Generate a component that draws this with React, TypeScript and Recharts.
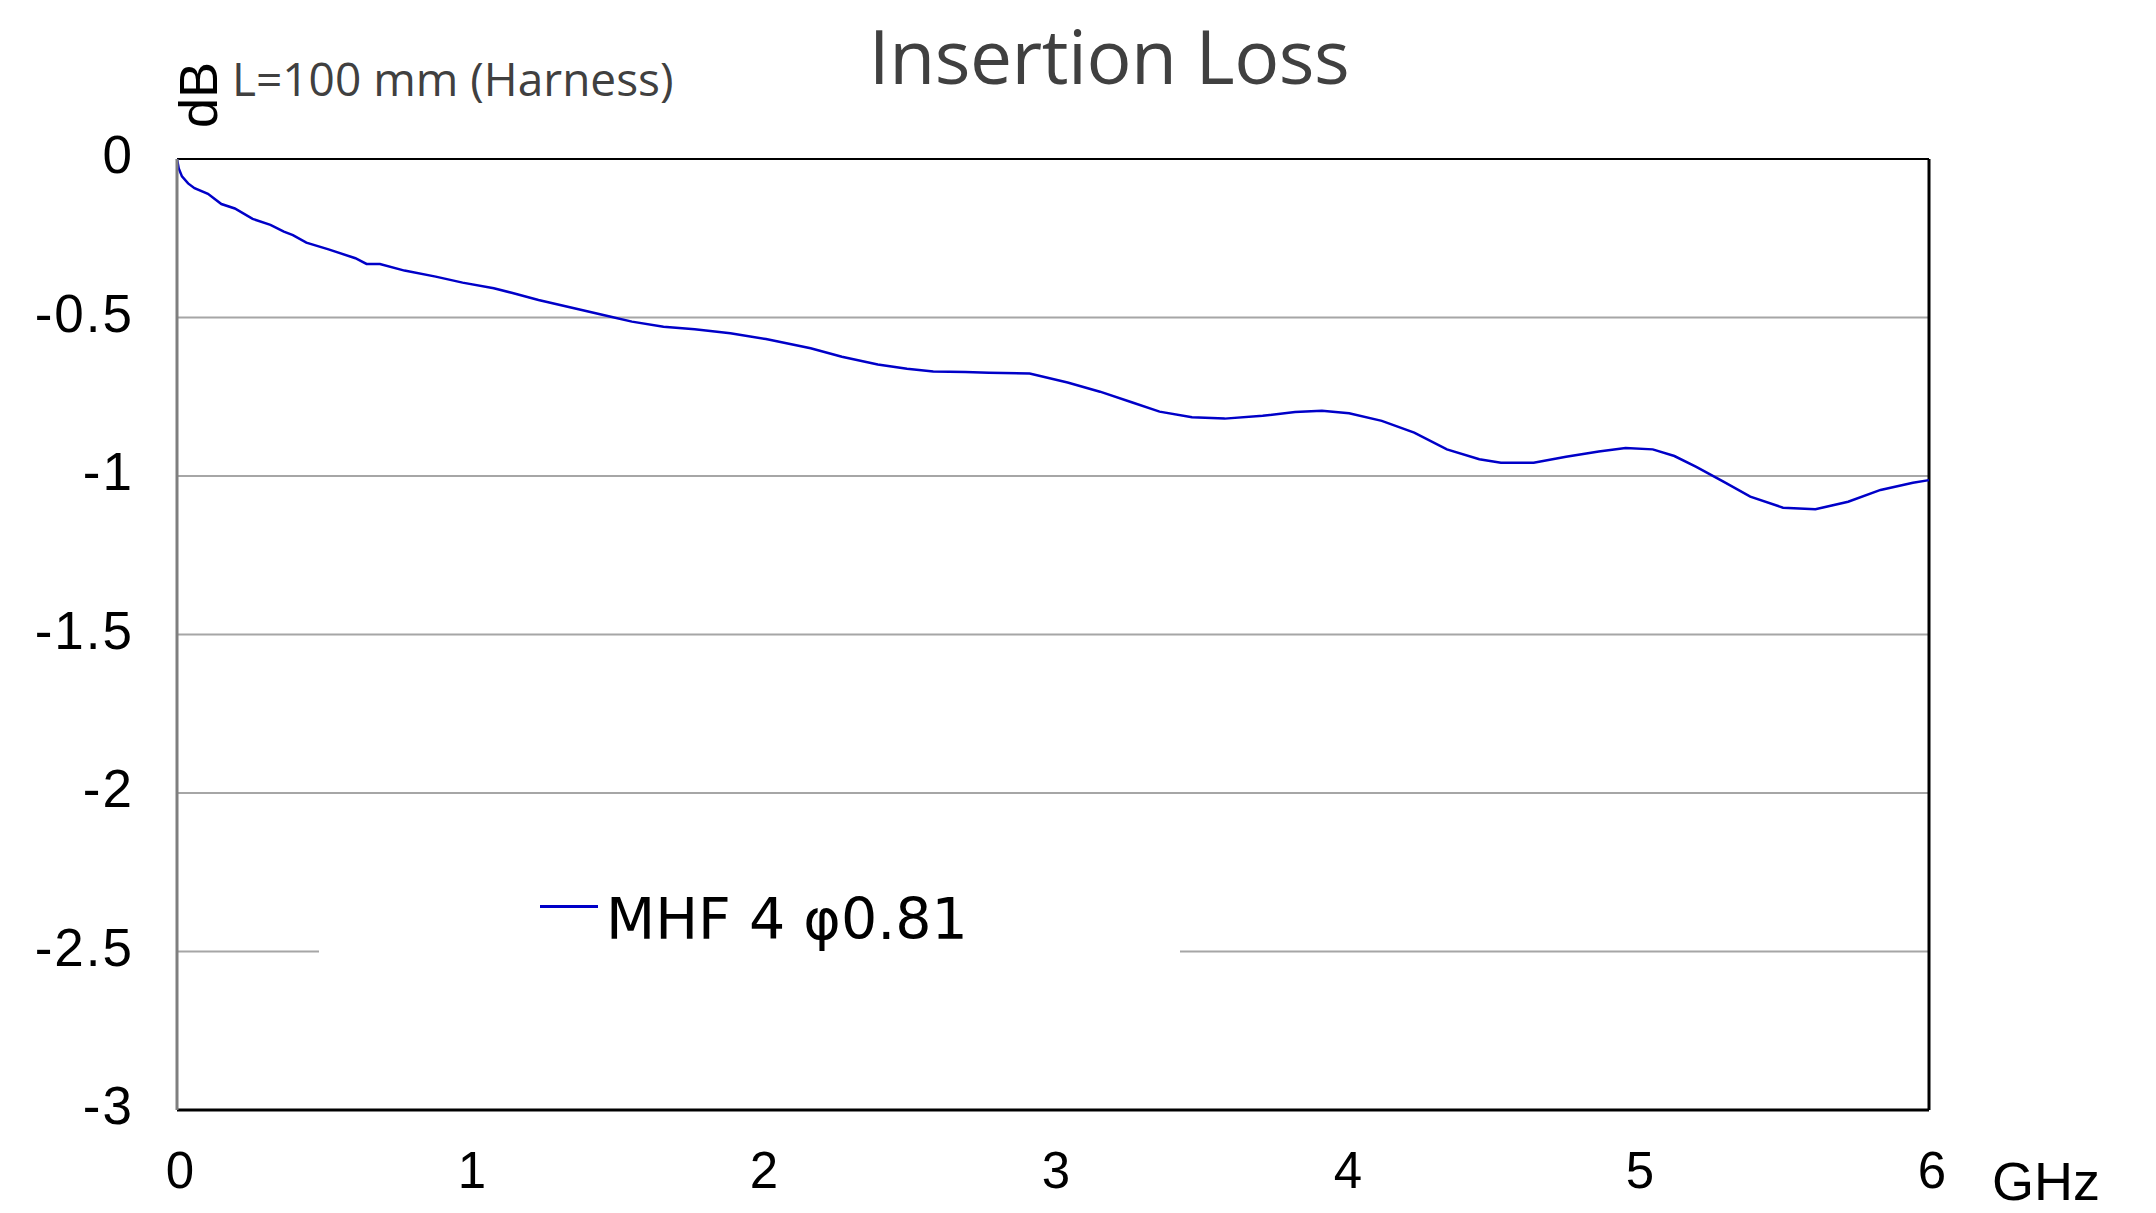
import React from 'react';
import {
  LineChart,
  Line,
  XAxis,
  YAxis,
  CartesianGrid,
  ReferenceLine,
  Legend
} from 'recharts';

// Frequency (GHz) and insertion loss (dB)
const freqGHz = [
  0, 0.006, 0.017, 0.038, 0.06, 0.106, 0.152, 0.198, 0.259, 0.32, 0.366, 0.397,
  0.443, 0.519, 0.611, 0.649, 0.695, 0.779, 0.886, 0.978, 1.085, 1.146, 1.238,
  1.375, 1.482, 1.558, 1.666, 1.773, 1.895, 2.017, 2.17, 2.277, 2.4, 2.5, 2.59,
  2.7, 2.78, 2.92, 3.05, 3.161, 3.272, 3.365, 3.476, 3.588, 3.718, 3.829, 3.921,
  4.014, 4.126, 4.237, 4.349, 4.46, 4.534, 4.646, 4.757, 4.869, 4.961, 5.054,
  5.128, 5.203, 5.296, 5.388, 5.5, 5.611, 5.723, 5.834, 5.945, 6.0
];
const insertionLossDb = [
  0, -0.03, -0.055, -0.077, -0.092, -0.11, -0.142, -0.156, -0.189, -0.208,
  -0.229, -0.24, -0.264, -0.285, -0.313, -0.331, -0.331, -0.352, -0.371, -0.39,
  -0.408, -0.422, -0.445, -0.474, -0.497, -0.513, -0.529, -0.537, -0.55,
  -0.568, -0.597, -0.624, -0.648, -0.662, -0.67, -0.672, -0.674, -0.677,
  -0.705, -0.734, -0.768, -0.797, -0.815, -0.819, -0.81, -0.798, -0.794,
  -0.802, -0.826, -0.863, -0.916, -0.947, -0.958, -0.958, -0.939, -0.923,
  -0.912, -0.916, -0.937, -0.971, -1.018, -1.065, -1.1, -1.105, -1.081,
  -1.044, -1.021, -1.013
];
const xTicks = [0, 1, 2, 3, 4, 5, 6];
const yTicks = [0, -0.5, -1, -1.5, -2, -2.5, -3];
const seriesName = 'MHF 4 φ0.81';

const data = freqGHz.map((f, i) => ({ f, loss: insertionLossDb[i] }));

const LINE_COLOR = '#0000c8';

// y axis labels sit a little above their grid lines, right edge ~43px left of the frame
const YTick = (props: any) => (
  <text
    x={props.x - 43}
    y={props.y + 14}
    textAnchor="end"
    fontFamily="'Liberation Sans', Arial, sans-serif"
    fontSize={53}
    letterSpacing={2}
    fill="#000"
  >
    {props.payload.value}
  </text>
);

const XTick = (props: any) => (
  <text
    x={props.x + 3}
    y={props.y + 78}
    textAnchor="middle"
    fontFamily="'Liberation Sans', Arial, sans-serif"
    fontSize={51}
    fill="#000"
  >
    {props.payload.value}
  </text>
);

const LegendBox = (props: any) => {
  const name = props.payload && props.payload[0] ? props.payload[0].value : seriesName;
  return (
    <div style={{ position: 'relative', width: '100%', height: '100%' }}>
      <div
        style={{
          position: 'absolute',
          left: 221,
          top: 25,
          width: 58,
          height: 3,
          background: LINE_COLOR
        }}
      />
      <div
        style={{
          position: 'absolute',
          left: 287,
          top: 11,
          fontFamily: "'DejaVu Sans', sans-serif",
          fontSize: 57,
          lineHeight: 1,
          color: '#000',
          whiteSpace: 'nowrap'
        }}
      >
        {name}
      </div>
    </div>
  );
};

export default function App() {
  return (
    <div style={{ position: 'absolute', left: 0, top: 0, width: 2156, height: 1213, background: '#fff' }}>
      <LineChart
        width={2156}
        height={1213}
        data={data}
        margin={{ top: 159, right: 227, bottom: 3, left: 27 }}
      >
        <CartesianGrid horizontal vertical={false} stroke="#a6a6a6" strokeWidth={2} />
        <XAxis
          type="number"
          dataKey="f"
          domain={[0, 6]}
          ticks={xTicks}
          height={100}
          tickSize={0}
          tickMargin={0}
          tickLine={false}
          axisLine={{ stroke: '#000', strokeWidth: 3 }}
          tick={XTick}
          interval={0}
        />
        <YAxis
          type="number"
          domain={[-3, 0]}
          ticks={yTicks}
          width={150}
          tickSize={0}
          tickMargin={0}
          tickLine={false}
          axisLine={{ stroke: '#7f7f7f', strokeWidth: 3 }}
          tick={YTick}
          interval={0}
        />
        <ReferenceLine y={0} stroke="#000" strokeWidth={2} />
        <ReferenceLine x={6} stroke="#000" strokeWidth={3} />
        <Legend
          layout="horizontal"
          verticalAlign="middle"
          align="center"
          content={<LegendBox />}
          wrapperStyle={{ left: 319, top: 880, width: 861, height: 80, background: '#fff' }}
        />
        <Line
          type="linear"
          dataKey="loss"
          name={seriesName}
          stroke={LINE_COLOR}
          strokeWidth={2.5}
          dot={false}
          activeDot={false}
          isAnimationActive={false}
        />
      </LineChart>
      <svg
        width={2156}
        height={1213}
        style={{ position: 'absolute', left: 0, top: 0, pointerEvents: 'none' }}
      >
        <text
          x={1109}
          y={84}
          textAnchor="middle"
          fontFamily="'Open Sans', sans-serif"
          fontSize={75}
          letterSpacing={-0.5}
          fill="#404040"
        >
          Insertion Loss
        </text>
        <text
          x={232}
          y={96}
          fontFamily="'Open Sans', sans-serif"
          fontSize={46}
          fill="#404040"
        >
          L=100 mm (Harness)
        </text>
        <text
          transform="translate(217,95) rotate(-90)"
          textAnchor="middle"
          fontFamily="'Liberation Sans', Arial, sans-serif"
          fontSize={54}
          fill="#000"
        >
          dB
        </text>
        <text
          x={1992}
          y={1200}
          fontFamily="'Liberation Sans', Arial, sans-serif"
          fontSize={54}
          fill="#000"
        >
          GHz
        </text>
      </svg>
    </div>
  );
}
